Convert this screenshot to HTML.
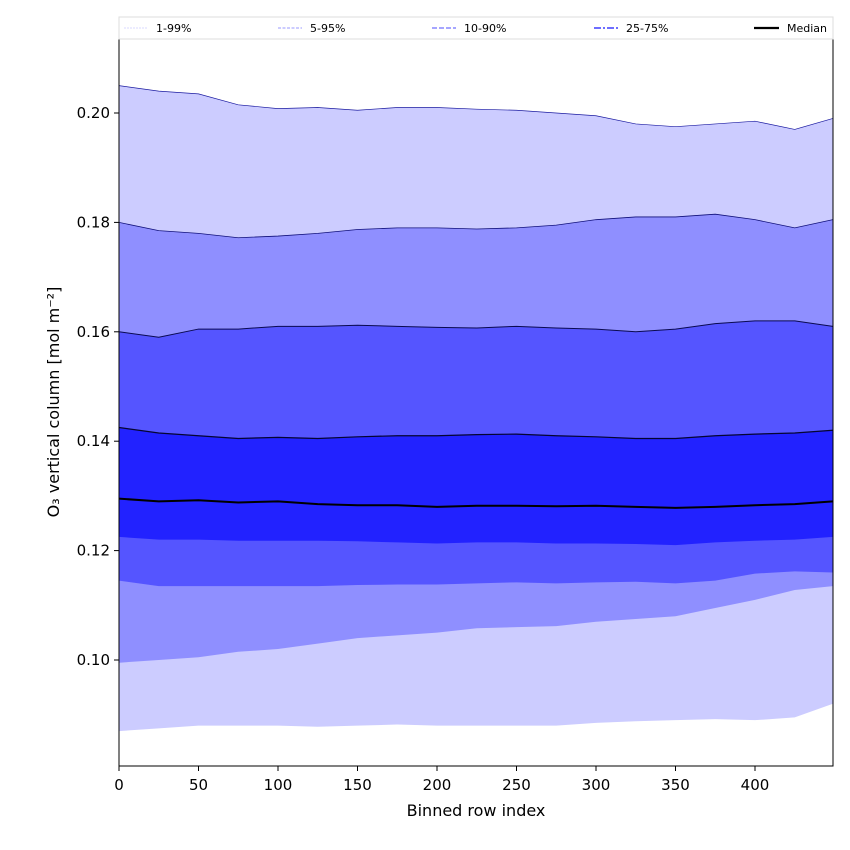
<!DOCTYPE html>
<html><head><meta charset="utf-8"><style>
body{margin:0;background:#fff;}
svg{display:block;font-family:"DejaVu Sans","Liberation Sans",sans-serif;}
</style></head><body>
<svg id="chart" width="850" height="850" viewBox="0 0 850 850">
<g id="bands"></g>
<rect x="119" y="39" width="714" height="727" fill="none" stroke="#000" stroke-width="1"/>
<g id="xticks"></g>
<g id="yticks"></g>
<text x="476" y="816" text-anchor="middle" font-size="16">Binned row index</text>
<text transform="translate(59,402) rotate(-90)" text-anchor="middle" font-size="16">O₃ vertical column [mol m⁻²]</text>
<g>
<rect x="119" y="17" width="714" height="22" fill="#fff" stroke="#ddd"/>
<g><line x1="124" y1="28" x2="148" y2="28" stroke="#d8d8ff" stroke-dasharray="2,1"/><text x="156" y="32" font-size="11">1-99%</text></g>
<g><line x1="278" y1="28" x2="302" y2="28" stroke="#9a9aff" stroke-dasharray="3,1.5"/><text x="310" y="32" font-size="11">5-95%</text></g>
<g><line x1="432" y1="28" x2="456" y2="28" stroke="#7070ff" stroke-width="1.3" stroke-dasharray="5,2"/><text x="464" y="32" font-size="11">10-90%</text></g>
<g><line x1="594" y1="28" x2="618" y2="28" stroke="#5a5aff" stroke-width="1.8" stroke-dasharray="7,2,2,2"/><text x="626" y="32" font-size="11">25-75%</text></g>
<g><line x1="754" y1="28" x2="779" y2="28" stroke="#000" stroke-width="2.2"/><text x="787" y="32" font-size="11">Median</text></g>
</g>
</svg>
<script>
const xs  = [0,25,50,75,100,125,150,175,200,225,250,275,300,325,350,375,400,425,449];
const p99 = [0.205,0.204,0.2035,0.2015,0.2008,0.201,0.2005,0.201,0.201,0.2007,0.2005,0.2,0.1995,0.198,0.1975,0.198,0.1985,0.197,0.199];
const p95 = [0.180,0.1785,0.178,0.1772,0.1775,0.178,0.1787,0.179,0.179,0.1788,0.179,0.1795,0.1805,0.181,0.181,0.1815,0.1805,0.179,0.1805];
const p90 = [0.160,0.159,0.1605,0.1605,0.161,0.161,0.1612,0.161,0.1608,0.1607,0.161,0.1607,0.1605,0.160,0.1605,0.1615,0.162,0.162,0.161];
const p75 = [0.1425,0.1415,0.141,0.1405,0.1407,0.1405,0.1408,0.141,0.141,0.1412,0.1413,0.141,0.1408,0.1405,0.1405,0.141,0.1413,0.1415,0.142];
const p50 = [0.1295,0.129,0.1292,0.1288,0.129,0.1285,0.1283,0.1283,0.128,0.1282,0.1282,0.1281,0.1282,0.128,0.1278,0.128,0.1283,0.1285,0.129];
const p25 = [0.1225,0.122,0.122,0.1218,0.1218,0.1218,0.1217,0.1215,0.1213,0.1215,0.1215,0.1213,0.1213,0.1212,0.121,0.1215,0.1218,0.122,0.1225];
const p10 = [0.1145,0.1135,0.1135,0.1135,0.1135,0.1135,0.1137,0.1138,0.1138,0.114,0.1142,0.114,0.1142,0.1143,0.114,0.1145,0.1158,0.1162,0.116];
const p5  = [0.0995,0.1,0.1005,0.1015,0.102,0.103,0.104,0.1045,0.105,0.1058,0.106,0.1062,0.107,0.1075,0.108,0.1095,0.111,0.1128,0.1135];
const p1  = [0.087,0.0875,0.088,0.088,0.088,0.0878,0.088,0.0882,0.088,0.088,0.088,0.088,0.0885,0.0888,0.089,0.0892,0.089,0.0895,0.092];
const xTicks = [0,50,100,150,200,250,300,350,400];
const yTicks = [0.10,0.12,0.14,0.16,0.18,0.20];

const NS="http://www.w3.org/2000/svg";
const X = v => 119 + v*1.59;
const Y = v => 113 + (0.20 - v)*5470;
function band(lo,hi,fill,name){
  const top = xs.map((x,i)=>X(x)+','+Y(hi[i]));
  const bot = xs.map((x,i)=>X(x)+','+Y(lo[i])).reverse();
  const p=document.createElementNS(NS,'polygon');
  p.setAttribute('points',top.concat(bot).join(' '));
  p.setAttribute('fill',fill);
  
  
  document.getElementById('bands').appendChild(p);
}
function line(arr,stroke,w,name){
  const p=document.createElementNS(NS,'polyline');
  p.setAttribute('points',xs.map((x,i)=>X(x)+','+Y(arr[i])).join(' '));
  p.setAttribute('fill','none');p.setAttribute('stroke',stroke);p.setAttribute('stroke-width',w);
  
  
  document.getElementById('bands').appendChild(p);
}
band(p1,p99,'#ccccff','band-1-99');
band(p5,p95,'#8f8fff','band-5-95');
band(p10,p90,'#5555ff','band-10-90');
band(p25,p75,'#2222ff','band-25-75');
line(p99,'#1a1aa0',0.7,'line-p99');
line(p95,'#10107a',0.8,'line-p95');
line(p90,'#0a0a50',1,'line-p90');
line(p75,'#050530',1.2,'line-p75');
line(p50,'#000',2,'median-line');
const xg=document.getElementById('xticks');
xTicks.forEach(t=>{
  const g=document.createElementNS(NS,'g');
  
  
  g.innerHTML=`<line x1="${X(t)}" y1="766" x2="${X(t)}" y2="771" stroke="#000"/><text x="${X(t)}" y="790" font-size="15" text-anchor="middle">${t}</text>`;
  xg.appendChild(g);
});
const yg=document.getElementById('yticks');
yTicks.forEach(t=>{
  const g=document.createElementNS(NS,'g');
  
  
  g.innerHTML=`<line x1="114" y1="${Y(t)}" x2="119" y2="${Y(t)}" stroke="#000"/><text x="110" y="${Y(t)+5}" font-size="15" text-anchor="end">${t.toFixed(2)}</text>`;
  yg.appendChild(g);
});
</script>
</body></html>
